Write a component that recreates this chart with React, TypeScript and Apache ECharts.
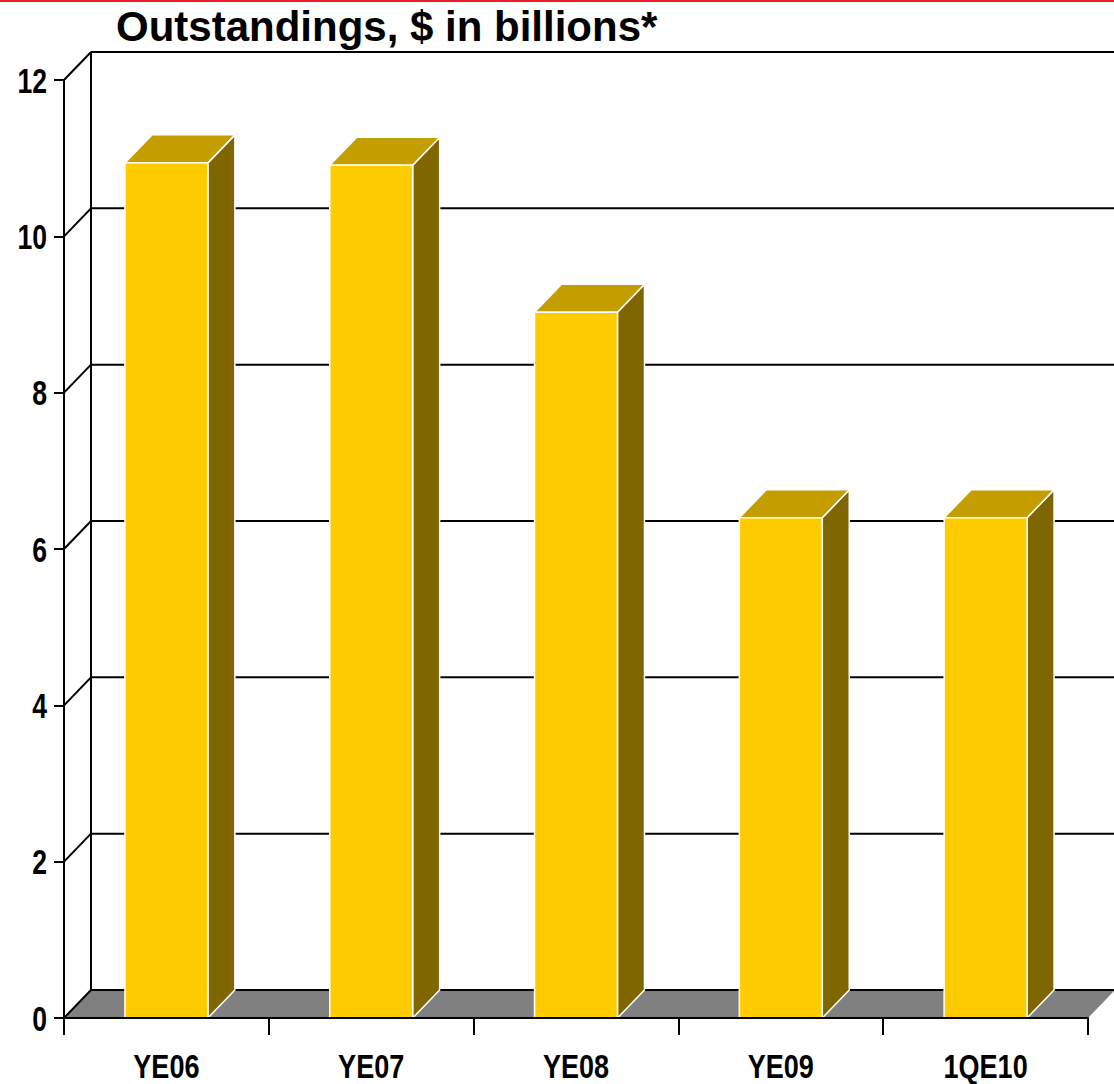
import React, { useEffect, useRef } from "react";
import * as echarts from "echarts";

// Outstandings by period, $ in billions
const categories = ["YE06", "YE07", "YE08", "YE09", "1QE10"];
const outstandings = [10.94, 10.91, 9.03, 6.4, 6.4];
const yTicks = [0, 2, 4, 6, 8, 10, 12];

// 3D depth offset of the box (px)
const DX = 27;
const DY = -28;

// Condensed bold label text (Arial-like glyphs squeezed horizontally)
const LABEL_FONT = "'Liberation Sans', Arial, sans-serif";
const X_LABEL_SIZE = 33;
const X_LABEL_SQUEEZE = 0.82;
const Y_LABEL_SIZE = 35;
const Y_LABEL_SQUEEZE = 0.76;

export default function App() {
  const ref = useRef<HTMLDivElement>(null);

  useEffect(() => {
    document.body.style.margin = "0";
    const chart = echarts.init(ref.current!, null, { renderer: "svg" });

    // Floor, back wall gridlines and left-wall diagonals
    const frameItem = (params: any, api: any) => {
      const cs = params.coordSys;
      const left = cs.x;
      const right = cs.x + cs.width;
      const y0 = api.coord([0, 0])[1];
      const yTop = api.coord([0, yTicks[yTicks.length - 1]])[1];
      const children: any[] = [];
      children.push({
        type: "polygon",
        shape: {
          points: [
            [left, y0],
            [right, y0],
            [right + DX, y0 + DY],
            [left + DX, y0 + DY],
          ],
        },
        style: { fill: "#808080", stroke: "none" },
      });
      const line = { stroke: "#000", lineWidth: 2 };
      for (const t of yTicks) {
        const y = api.coord([0, t])[1];
        children.push({
          type: "line",
          shape: { x1: left + DX, y1: y + DY, x2: right + DX, y2: y + DY },
          style: line,
        });
        children.push({
          type: "line",
          shape: { x1: left, y1: y, x2: left + DX, y2: y + DY },
          style: line,
        });
      }
      children.push({
        type: "line",
        shape: { x1: left + DX, y1: y0 + DY, x2: left + DX, y2: yTop + DY },
        style: line,
      });
      return { type: "group", children };
    };

    // Extruded bars: front, top and side faces
    const barItem = (params: any, api: any) => {
      const xi = api.value(0);
      const v = api.value(1);
      const base = api.coord([xi, 0]);
      const top = api.coord([xi, v]);
      const band = api.size([1, 0])[0];
      const w = band * 0.405;
      const x0 = base[0] - w / 2;
      const x1 = base[0] + w / 2;
      const yb = base[1];
      const yt = top[1];
      const edge = { stroke: "#ffffff", lineWidth: 1.5, lineJoin: "round" };
      return {
        type: "group",
        children: [
          {
            type: "polygon",
            shape: { points: [[x1, yt], [x1 + DX, yt + DY], [x1 + DX, yb + DY], [x1, yb]] },
            style: { fill: "#806600", ...edge },
          },
          {
            type: "polygon",
            shape: { points: [[x0, yt], [x1, yt], [x1 + DX, yt + DY], [x0 + DX, yt + DY]] },
            style: { fill: "#C49E00", ...edge },
          },
          {
            type: "polygon",
            shape: { points: [[x0, yt], [x1, yt], [x1, yb], [x0, yb]] },
            style: { fill: "#FFCC00", ...edge },
          },
        ],
      };
    };

    const labelStyle = {
      fill: "#000",
      fontFamily: LABEL_FONT,
      fontWeight: "bold",
    };

    // Category labels under the axis
    const xLabelItem = (params: any, api: any) => {
      const i = api.value(0);
      const p = api.coord([i, 0]);
      return {
        type: "text",
        x: p[0],
        y: p[1] + 49,
        scaleX: X_LABEL_SQUEEZE,
        style: {
          ...labelStyle,
          fontSize: X_LABEL_SIZE,
          text: categories[i],
          x: 0,
          y: 0,
          align: "center",
          verticalAlign: "middle",
        },
      };
    };

    // Value labels left of the axis
    const yLabelItem = (params: any, api: any) => {
      const t = api.value(1);
      const p = api.coord([0, t]);
      const cs = params.coordSys;
      return {
        type: "text",
        x: cs.x - 17,
        y: p[1] + 1,
        scaleX: Y_LABEL_SQUEEZE,
        style: {
          ...labelStyle,
          fontSize: Y_LABEL_SIZE,
          text: String(t),
          x: 0,
          y: 0,
          align: "right",
          verticalAlign: "middle",
        },
      };
    };

    chart.setOption({
      animation: false,
      backgroundColor: "#ffffff",
      title: {
        text: "Outstandings, $ in billions*",
        left: 116,
        top: 5,
        padding: 0,
        textStyle: {
          fontFamily: "'Liberation Sans', Arial, sans-serif",
          fontWeight: "bold",
          fontSize: 42,
          color: "#000",
        },
      },
      graphic: [
        {
          type: "rect",
          left: 0,
          top: 0,
          shape: { width: 1114, height: 2 },
          style: { fill: "#EE1C25" },
          z: 100,
        },
      ],
      grid: { left: 64, top: 80, width: 1024, height: 938, containLabel: false },
      xAxis: {
        type: "category",
        data: categories,
        boundaryGap: true,
        axisLine: { show: true, lineStyle: { color: "#000", width: 2 } },
        axisTick: { show: true, length: 17, lineStyle: { color: "#000", width: 2 } },
        axisLabel: { show: false },
        splitLine: { show: false },
        z: 10,
      },
      yAxis: {
        type: "value",
        min: 0,
        max: 12,
        interval: 2,
        axisLine: { show: true, lineStyle: { color: "#000", width: 2 } },
        axisTick: { show: true, length: 10, lineStyle: { color: "#000", width: 2 } },
        axisLabel: { show: false },
        splitLine: { show: false },
        z: 10,
      },
      series: [
        {
          type: "custom",
          name: "frame",
          renderItem: frameItem,
          data: [[0, 0]],
          clip: false,
          silent: true,
          z: 1,
        },
        {
          type: "custom",
          name: "Outstandings",
          renderItem: barItem,
          data: outstandings.map((v, i) => [i, v]),
          encode: { x: 0, y: 1 },
          clip: false,
          z: 2,
        },
        {
          type: "custom",
          name: "categoryLabels",
          renderItem: xLabelItem,
          data: categories.map((_, i) => [i, 0]),
          encode: { x: 0, y: 1 },
          clip: false,
          silent: true,
          z: 3,
        },
        {
          type: "custom",
          name: "valueLabels",
          renderItem: yLabelItem,
          data: yTicks.map((t) => [0, t]),
          encode: { x: 0, y: 1 },
          clip: false,
          silent: true,
          z: 3,
        },
      ],
    });

    return () => chart.dispose();
  }, []);

  return <div ref={ref} style={{ width: 1114, height: 1084 }} />;
}
